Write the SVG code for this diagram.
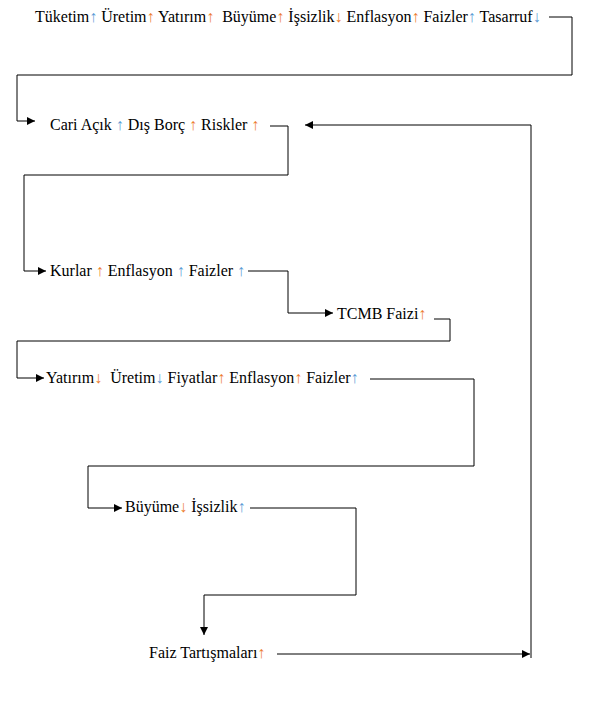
<svg xmlns="http://www.w3.org/2000/svg" width="595" height="703" viewBox="0 0 595 703">
<style>
text{font-family:"Liberation Serif","Times New Roman",serif;font-size:16px;fill:#000;white-space:pre}
.o{fill:#ed7d31}.b{fill:#5b9bd5}
.c{fill:none;stroke:#000;stroke-width:1}
</style>
<defs>
<marker id="ah" viewBox="0 0 10 10" refX="10" refY="5" markerWidth="10" markerHeight="8" markerUnits="userSpaceOnUse" orient="auto"><path d="M0,0L10,5L0,10z" fill="#000"/></marker>
</defs>
<rect width="595" height="703" fill="#fff"/>
<g id="connectors">
<path class="c" d="M549,17H572V75H17V121H35" marker-end="url(#ah)"/>
<path class="c" d="M270,126H288V175H24V271H46" marker-end="url(#ah)"/>
<path class="c" d="M248,271H288V313H333" marker-end="url(#ah)"/>
<path class="c" d="M434,319H450V341H17V378H44" marker-end="url(#ah)"/>
<path class="c" d="M370,379H474V466H88V508H122" marker-end="url(#ah)"/>
<path class="c" d="M250,508H356V595H204V635" marker-end="url(#ah)"/>
<path class="c" d="M277,654H530" marker-end="url(#ah)"/>
<path class="c" d="M531,658V125H305" marker-end="url(#ah)"/>
</g>
<g id="n1"><text x="35" y="22" xml:space="preserve">Tüketim<tspan class="b">↑</tspan> Üretim<tspan class="o">↑</tspan> Yatırım<tspan class="o">↑</tspan>  Büyüme<tspan class="o">↑</tspan> İşsizlik<tspan class="o">↓</tspan> Enflasyon<tspan class="o">↑</tspan> Faizler<tspan class="b">↑</tspan> Tasarruf<tspan class="b">↓</tspan></text></g>
<g id="n2"><text x="50" y="130" xml:space="preserve">Cari Açık <tspan class="b">↑</tspan> Dış Borç <tspan class="o">↑</tspan> Riskler <tspan class="o">↑</tspan></text></g>
<g id="n3"><text x="50" y="276" xml:space="preserve">Kurlar <tspan class="o">↑</tspan> Enflasyon <tspan class="b">↑</tspan> Faizler <tspan class="b">↑</tspan></text></g>
<g id="n4"><text x="337" y="319" xml:space="preserve">TCMB Faizi<tspan class="o">↑</tspan></text></g>
<g id="n5"><text x="46" y="383" xml:space="preserve">Yatırım<tspan class="o">↓</tspan>  Üretim<tspan class="b">↓</tspan> Fiyatlar<tspan class="o">↑</tspan> Enflasyon<tspan class="o">↑</tspan> Faizler<tspan class="b">↑</tspan></text></g>
<g id="n6"><text x="125" y="512" xml:space="preserve">Büyüme<tspan class="o">↓</tspan> İşsizlik<tspan class="b">↑</tspan></text></g>
<g id="n7"><text x="149" y="658" xml:space="preserve">Faiz Tartışmaları<tspan class="o">↑</tspan></text></g>
</svg>
